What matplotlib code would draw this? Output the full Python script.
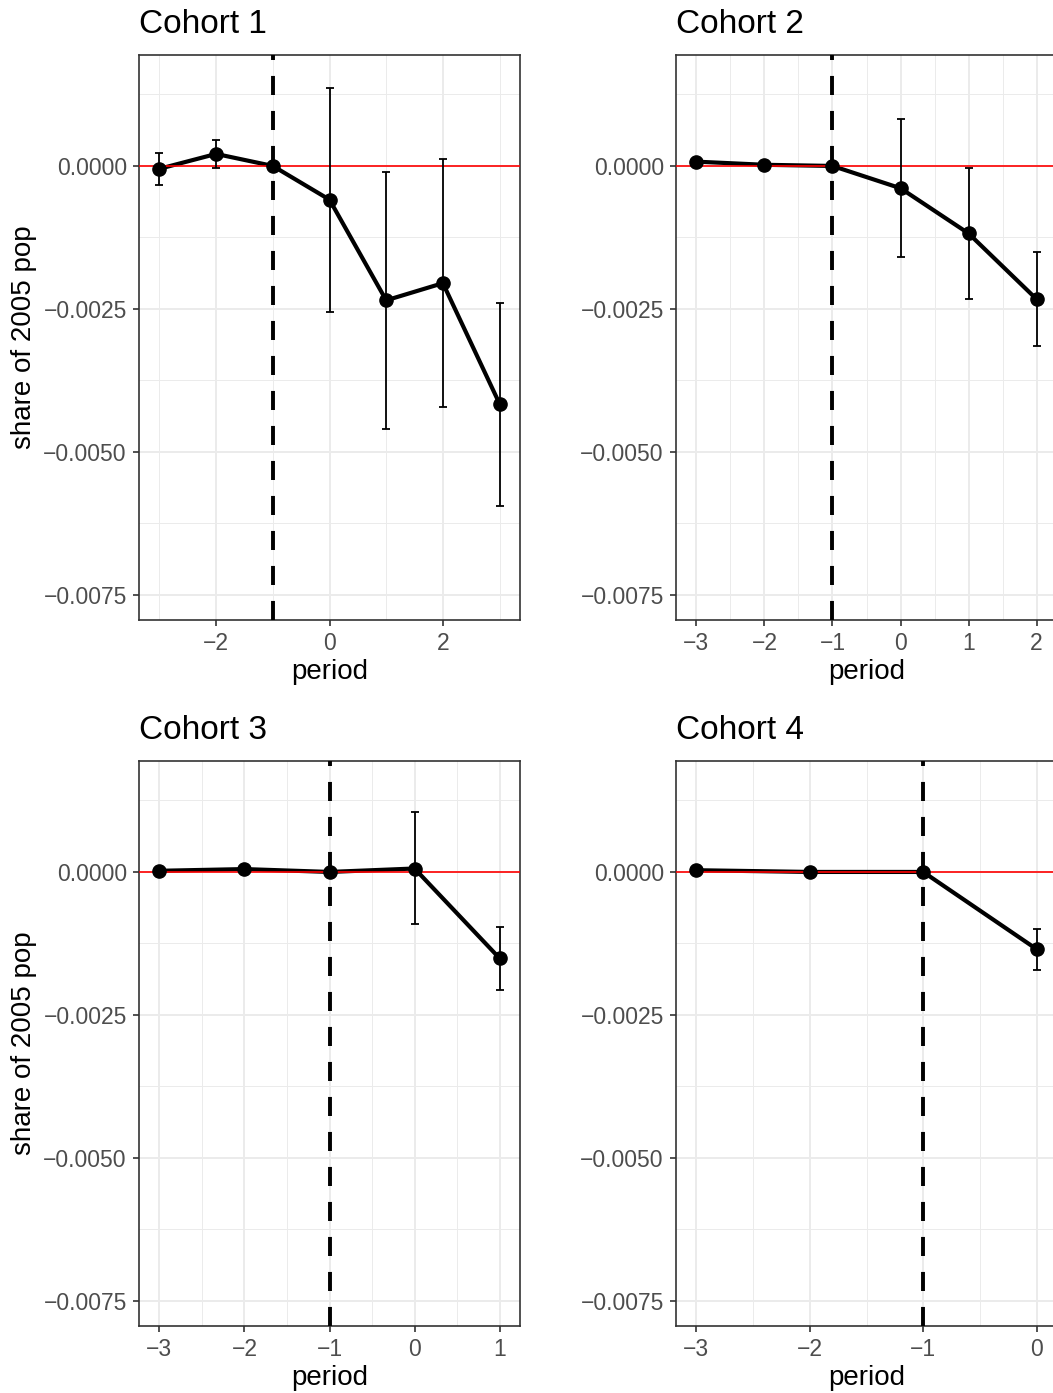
import numpy as np
import matplotlib
matplotlib.use("Agg")
import matplotlib.pyplot as plt
from matplotlib.ticker import MultipleLocator, FuncFormatter

# =========================
# DATA
# =========================
cohorts = ["Cohort 1", "Cohort 2", "Cohort 3", "Cohort 4"]

periods_1 = [-3, -2, -1, 0, 1, 2, 3]
est_1 = [-0.00005, 0.00021, 0.0, -0.00059, -0.00235, -0.00205, -0.00416]
lo_1 = [-0.00033, -0.00004, 0.0, -0.00256, -0.00460, -0.00421, -0.00594]
hi_1 = [0.00023, 0.00045, 0.0, 0.00137, -0.00010, 0.00012, -0.00239]

periods_2 = [-3, -2, -1, 0, 1, 2]
est_2 = [0.000075, 0.00002, 0.0, -0.00039, -0.00118, -0.00233]
lo_2 = [0.00004, -0.00001, 0.0, -0.00159, -0.00232, -0.00315]
hi_2 = [0.00011, 0.00005, 0.0, 0.00082, -0.00003, -0.00150]

periods_3 = [-3, -2, -1, 0, 1]
est_3 = [0.00002, 0.00005, 0.0, 0.00006, -0.00151]
lo_3 = [-0.00001, 0.00002, 0.0, -0.00091, -0.00207]
hi_3 = [0.00005, 0.00008, 0.0, 0.00104, -0.00096]

periods_4 = [-3, -2, -1, 0]
est_4 = [0.00003, 0.0, 0.0, -0.00135]
lo_4 = [0.0, -0.00003, 0.0, -0.00171]
hi_4 = [0.00006, 0.00003, 0.0, -0.00099]

all_periods = [periods_1, periods_2, periods_3, periods_4]
all_est = [est_1, est_2, est_3, est_4]
all_lo = [lo_1, lo_2, lo_3, lo_4]
all_hi = [hi_1, hi_2, hi_3, hi_4]

y_limits = (-0.00794, 0.00194)

# =========================
# STYLE
# =========================
plt.rcParams['font.family'] = ['Liberation Sans', 'DejaVu Sans']

W, H = 1053, 1393
fig = plt.figure(figsize=(W / 100, H / 100), dpi=100)

# panel boxes in pixels: left, top
panel_w, panel_h = 381, 565
boxes = [(139, 55), (676, 55), (139, 761), (676, 761)]


def fmt_y(v, pos):
    if abs(v) < 1e-12:
        return "0.0000"
    s = "%.4f" % v
    return s.replace("-", "\u2212")


def fmt_x(v, pos):
    s = "%d" % round(v)
    return s.replace("-", "\u2212")


for i in range(4):
    left, top = boxes[i]
    ax = fig.add_axes([left / W, 1 - (top + panel_h) / H, panel_w / W, panel_h / H])

    p = np.array(all_periods[i])
    e = np.array(all_est[i])
    lo = np.array(all_lo[i])
    hi = np.array(all_hi[i])

    rng = p.max() - p.min()
    pad = 0.06 * rng
    ax.set_xlim(p.min() - pad, p.max() + pad)
    ax.set_ylim(*y_limits)

    # grid
    if rng >= 6:
        ax.xaxis.set_major_locator(MultipleLocator(2))
        ax.xaxis.set_minor_locator(MultipleLocator(1))
    else:
        ax.xaxis.set_major_locator(MultipleLocator(1))
        ax.xaxis.set_minor_locator(MultipleLocator(0.5))
    ax.yaxis.set_major_locator(MultipleLocator(0.0025))
    ax.yaxis.set_minor_locator(MultipleLocator(0.00125))
    ax.grid(which='major', color='#EBEBEB', lw=1.4, zorder=0)
    ax.grid(which='minor', color='#EBEBEB', lw=0.7, zorder=0)
    ax.set_axisbelow(True)
    ax.tick_params(which='minor', length=0)
    ax.tick_params(which='major', length=4.3, width=1.2, color='#333333',
                   labelcolor='#4D4D4D', labelsize=16.5, pad=4.5)
    ax.xaxis.set_major_formatter(FuncFormatter(fmt_x))
    ax.yaxis.set_major_formatter(FuncFormatter(fmt_y))

    for sp in ax.spines.values():
        sp.set_color('#333333')
        sp.set_linewidth(1.2)

    # reference lines
    ax.axhline(0, color='red', lw=1.2, zorder=3)
    ax.axvline(-1, color='black', lw=2.8, linestyle=(0, (4.9, 4.1)), zorder=5)

    # estimates
    ax.plot(p, e, color='black', lw=3, zorder=2)
    ax.errorbar(p, e, yerr=[e - lo, hi - e], fmt='none', ecolor='black',
                elinewidth=1.3, capsize=3, capthick=1.3, zorder=4)
    ax.plot(p, e, 'o', color='black', markersize=9.5, zorder=4)

    ax.set_title(cohorts[i], loc='left', fontsize=24, pad=16, color='black')
    ax.set_xlabel("period", fontsize=20, labelpad=3)
    if i % 2 == 0:
        ax.set_ylabel("share of 2005 pop", fontsize=20, labelpad=4.5)

fig.savefig("out.png", dpi=100)
